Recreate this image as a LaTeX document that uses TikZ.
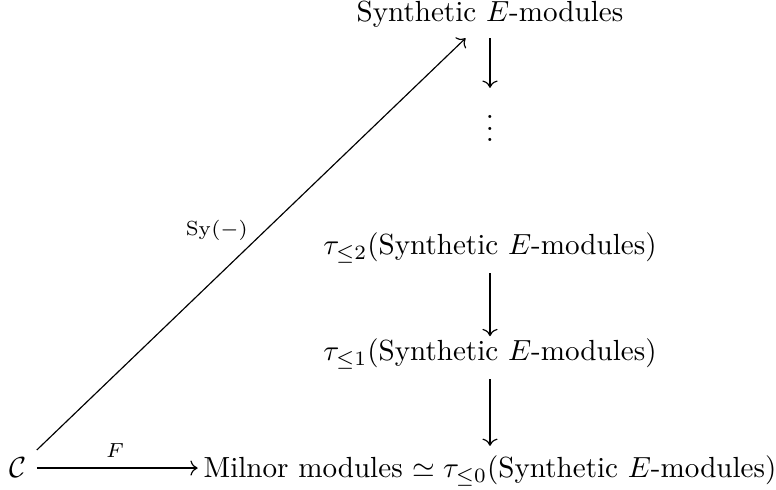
\documentclass[tikz,border=0pt]{standalone}
\usepackage{amsmath,amssymb}
\usetikzlibrary{arrows.meta}
\newcommand{\syn}{\text{Synthetic }E\text{-modules}}
\begin{document}
\begin{tikzpicture}[x=0.3436pt,y=-0.3436pt,>={To}]
  \useasboundingbox (0,0) rectangle (776,490);
  \node[anchor=base] (top) at (490,22) {$\syn$};
  \node (dots) at (490,120) {$\vdots$};
  \node[anchor=base] (tau2) at (490,255) {$\tau_{\leq 2}(\syn)$};
  \node[anchor=base] (tau1) at (490,361) {$\tau_{\leq 1}(\syn)$};
  \node[anchor=base] (mil) at (490,478) {Milnor modules $\simeq\tau_{\leq 0}(\syn)$};
  \node[anchor=base] (cat) at (18,478) {$\mathcal{C}$};
  \draw[->] (top) -- (dots);
  \draw[->,shorten >=-2.5pt] (tau2) -- (tau1);
  \draw[->] (tau1) -- (mil);
  \draw[->,shorten >=-1.5pt] (cat.east) -- (mil.west |- cat.east) node[midway,above] {$\scriptstyle F$};
  \draw[->] (cat) -- (top) node[midway,above left,inner sep=1pt] {$\scriptstyle\mathrm{Sy}(-)$};
\end{tikzpicture}
\end{document}
